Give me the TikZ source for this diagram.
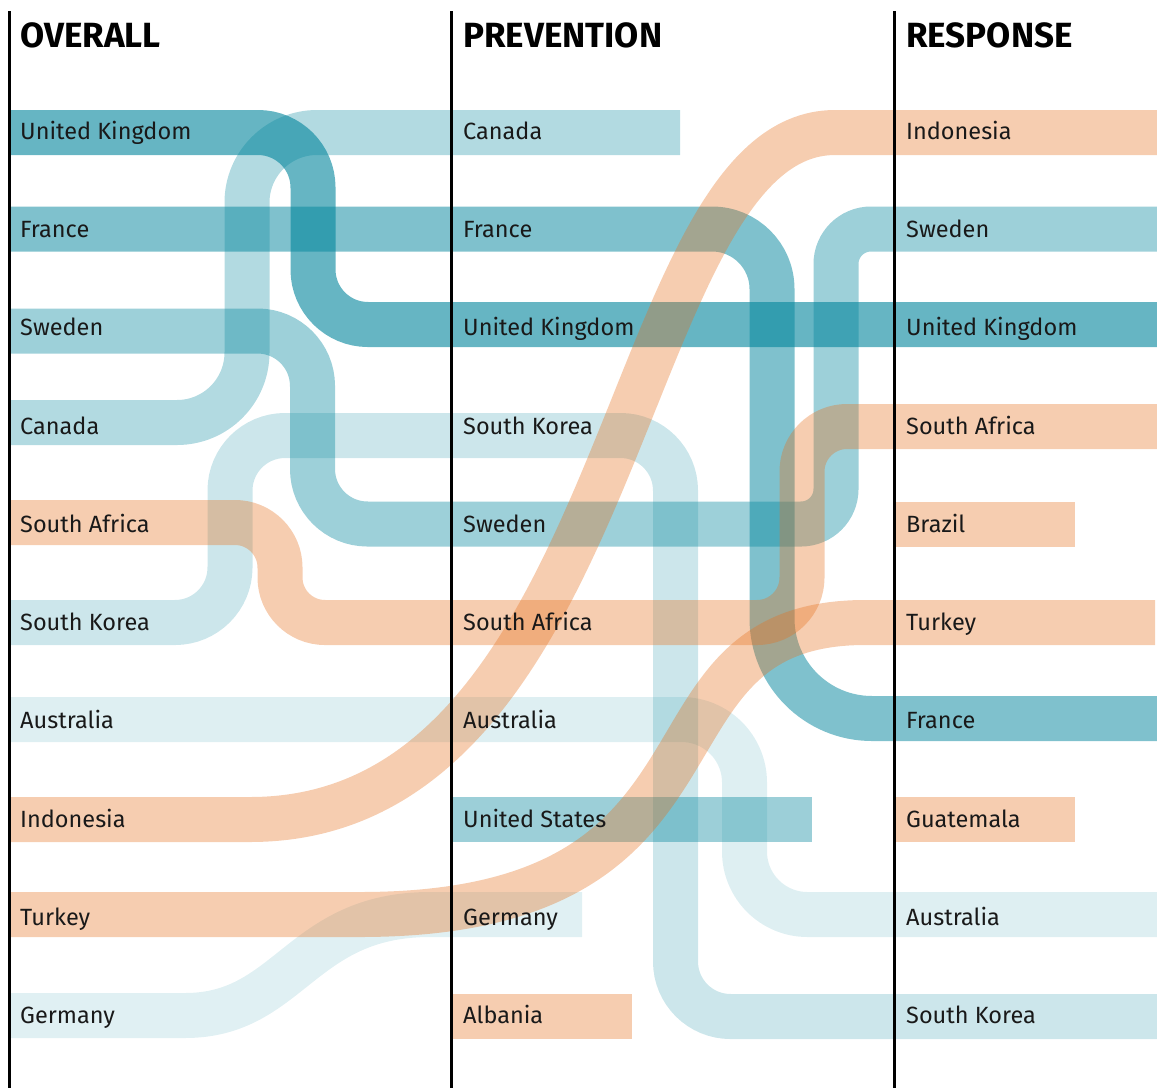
\documentclass[tikz,border=0pt]{standalone}
\usepackage{fontspec}
\setmainfont{Fira Sans}
\definecolor{tealbase}{RGB}{0,132,155}
\definecolor{orangebase}{RGB}{229,112,30}

\begin{document}
\begin{tikzpicture}[x=1pt,y=-1pt]

\tikzset{band/.style = {line width=45pt}}
\tikzset{tealband/.style = {band, draw=tealbase, draw opacity=#1}}
\tikzset{orangeband/.style = {band, draw=orangebase, draw opacity=.35}}
\tikzset{country/.style = {anchor=base west, inner sep=0pt, text=black!90, font=\fontsize{23.5}{28}\selectfont}}
\tikzset{heading/.style = {anchor=base west, inner sep=0pt, font=\fontsize{35}{42}\selectfont\bfseries}}
\tikzset{divider/.style = {line width=3pt}}

\useasboundingbox (0,0) rectangle (1157,1088);

%band ends
\coordinate (uk-a) at (10,132.5);    \coordinate (uk-b) at (1157,324.5);
\coordinate (fra-a) at (10,229);     \coordinate (fra-b) at (1157,718.5);
\coordinate (swe-a) at (10,331);     \coordinate (swe-b) at (1157,229);
\coordinate (can-a) at (10,422.5);   \coordinate (can-b) at (680,132.5);
\coordinate (saf-a) at (10,522.5);   \coordinate (saf-b) at (1157,426.5);
\coordinate (kor-a) at (10,622.5);   \coordinate (kor-b) at (1157,1016.5);
\coordinate (aus-a) at (10,719.5);   \coordinate (aus-b) at (1157,914.5);
\coordinate (ind-a) at (10,819.5);   \coordinate (ind-b) at (1157,132.5);
\coordinate (tur-a) at (10,914.5);   \coordinate (tur-b) at (1155,622.5);
\coordinate (ger-a) at (10,1015.5);  \coordinate (ger-b) at (582,914.5);
\coordinate (usa-a) at (452,819.5);  \coordinate (usa-b) at (812,819.5);
\coordinate (alb-a) at (452,1016.5); \coordinate (alb-b) at (632,1016.5);
\coordinate (bra-a) at (895,524.5);  \coordinate (bra-b) at (1075,524.5);
\coordinate (gua-a) at (895,819.5);  \coordinate (gua-b) at (1075,819.5);

%bands
\draw[tealband=.12] (ger-a) -- (185,1015.5) .. controls (290,1015.5) and (300,914.5) .. (430,914.5) -- (ger-b);
\draw[tealband=.13, rounded corners=63pt] (aus-a) -- (744.5,719.5) -- (744.5,914.5) -- (aus-b);
\draw[tealband=.2, rounded corners=55pt] (kor-a) -- (230,622.5) -- (230,435.5) -- (675.5,435.5) -- (675.5,1016.5) -- (kor-b);
\draw[tealband=.3, rounded corners=70pt] (can-a) -- (247,422.5) -- (247,132.5) -- (can-b);
\draw[tealband=.385] (swe-a) [rounded corners=55pt] -- (312.5,331) -- (312.5,524) -- (574,524) [rounded corners=35pt] -- (836,524) -- (836,229) -- (swe-b);
\draw[tealband=.39] (usa-a) -- (usa-b);
\draw[tealband=.5] (fra-a) [rounded corners=60pt] -- (772,229) -- (772,474) [rounded corners=100pt] -- (772,718.5) -- (fra-b);
\draw[tealband=.6, rounded corners=55pt] (uk-a) -- (313,132.5) -- (313,324.5) -- (uk-b);
\draw[orangeband, rounded corners=45pt] (saf-a) -- (280,522.5) -- (280,622.5) -- (802,622.5) -- (802,426.5) -- (saf-b);
\draw[orangeband] (ind-a) -- (250,819.5) .. controls (630,819.5) and (620,132.5) .. (835,132.5) -- (ind-b);
\draw[orangeband] (tur-a) -- (360,914.5) .. controls (760,914.5) and (620,622.5) .. (865,622.5) -- (tur-b);
\draw[orangeband] (alb-a) -- (alb-b);
\draw[orangeband] (bra-a) -- (bra-b);
\draw[orangeband] (gua-a) -- (gua-b);

%column rules
\coordinate (rule1-t) at (9.5,11);   \coordinate (rule1-b) at (9.5,1088);
\coordinate (rule2-t) at (451.5,11); \coordinate (rule2-b) at (451.5,1088);
\coordinate (rule3-t) at (894.5,11); \coordinate (rule3-b) at (894.5,1088);
\draw[divider] (rule1-t) -- (rule1-b);
\draw[divider] (rule2-t) -- (rule2-b);
\draw[divider] (rule3-t) -- (rule3-b);

%headings
\node[heading] (h-overall) at (20,47) {OVERALL};
\node[heading] (h-prevention) at (463,47) {PREVENTION};
\node[heading] (h-response) at (906,47) {RESPONSE};

%overall
\node[country] (ov-uk) at (20,139) {United Kingdom};
\node[country] (ov-fra) at (20,237) {France};
\node[country] (ov-swe) at (20,335) {Sweden};
\node[country] (ov-can) at (20,434) {Canada};
\node[country] (ov-saf) at (20,532) {South Africa};
\node[country] (ov-kor) at (20,630) {South Korea};
\node[country] (ov-aus) at (20,728) {Australia};
\node[country] (ov-ind) at (20,827) {Indonesia};
\node[country] (ov-tur) at (20,925) {Turkey};
\node[country] (ov-ger) at (20,1023) {Germany};

%prevention
\node[country] (pr-can) at (463,139) {Canada};
\node[country] (pr-fra) at (463,237) {France};
\node[country] (pr-uk) at (463,335) {United Kingdom};
\node[country] (pr-kor) at (463,434) {South Korea};
\node[country] (pr-swe) at (463,532) {Sweden};
\node[country] (pr-saf) at (463,630) {South Africa};
\node[country] (pr-aus) at (463,728) {Australia};
\node[country] (pr-usa) at (463,827) {United States};
\node[country] (pr-ger) at (463,925) {Germany};
\node[country] (pr-alb) at (463,1023) {Albania};

%response
\node[country] (re-ind) at (906,139) {Indonesia};
\node[country] (re-swe) at (906,237) {Sweden};
\node[country] (re-uk) at (906,335) {United Kingdom};
\node[country] (re-saf) at (906,434) {South Africa};
\node[country] (re-bra) at (906,532) {Brazil};
\node[country] (re-tur) at (906,630) {Turkey};
\node[country] (re-fra) at (906,728) {France};
\node[country] (re-gua) at (906,827) {Guatemala};
\node[country] (re-aus) at (906,925) {Australia};
\node[country] (re-kor) at (906,1023) {South Korea};

\end{tikzpicture}
\end{document}
